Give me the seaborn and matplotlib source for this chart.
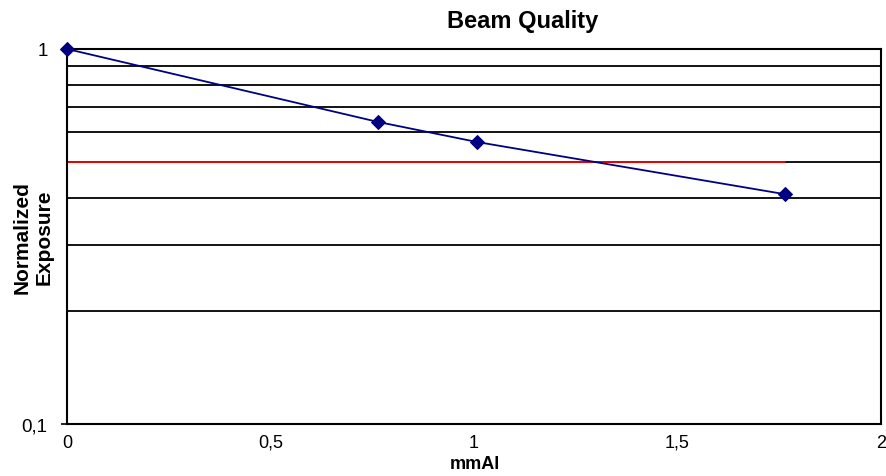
import matplotlib
matplotlib.use("Agg")
import matplotlib.pyplot as plt
import matplotlib.ticker as mticker
import seaborn as sns
import pandas as pd

# beam quality measurements
thickness_mm = [0.0, 0.764, 1.007, 1.764]
exposure = [1.0, 0.639, 0.565, 0.410]
half_value = 0.5
x_ticks = [0, 0.5, 1, 1.5, 2]
x_tick_labels = ["0", "0,5", "1", "1,5", "2"]
y_major = [0.1, 1]
y_major_labels = ["0,1", "1"]
y_minor = [0.2, 0.3, 0.4, 0.5, 0.6, 0.7, 0.8, 0.9]

sns.set_style("white")
plt.rcParams["font.family"] = ["Liberation Sans", "DejaVu Sans"]
plt.rcParams["text.color"] = "black"
plt.rcParams["xtick.color"] = "black"
plt.rcParams["ytick.color"] = "black"

df = pd.DataFrame({"mmAl": thickness_mm, "exposure": exposure})

fig = plt.figure(figsize=(8.86, 4.77), dpi=100)
ax = fig.add_axes([0.0756, 0.109, 0.9188, 0.7862])

ax.set_yscale("log")
ax.set_ylim(0.1, 1)
ax.set_xlim(0, 2)

# horizontal gridlines at minor positions
for v in y_minor:
    ax.axhline(v, color="black", lw=1.3, zorder=1)

# half value reference line
ax.plot([0, thickness_mm[-1]], [half_value, half_value], color="red", lw=1.3, zorder=2)

sns.lineplot(data=df, x="mmAl", y="exposure", ax=ax, color="#000080", lw=1.3,
             marker="D", markersize=7, markeredgecolor="#000080", zorder=3, clip_on=False)

ax.set_yticks(y_major)
ax.set_yticklabels(y_major_labels)
ax.yaxis.set_minor_locator(mticker.NullLocator())
ax.set_xticks(x_ticks)
ax.set_xticklabels(x_tick_labels)
ax.tick_params(axis="x", length=0, labelsize=13, pad=7)
ax.tick_params(axis="y", length=4, width=1.2, labelsize=13.5, pad=10, left=True)

for s in ax.spines.values():
    s.set_color("black")
    s.set_linewidth(1.5)

ax.set_xlabel("")
ax.set_ylabel("")
fig.text(0.536, 0.027, "mmAl", ha="center", va="center", fontsize=13, fontweight="bold")
fig.text(0.025, 0.503, "Normalized", ha="center", va="center", rotation=90,
         fontsize=15, fontweight="bold")
fig.text(0.05, 0.503, "Exposure", ha="center", va="center", rotation=90,
         fontsize=15, fontweight="bold")
fig.text(0.59, 0.955, "Beam Quality", ha="center", va="center", fontsize=17, fontweight="bold")

fig.savefig("out.png", dpi=100)
